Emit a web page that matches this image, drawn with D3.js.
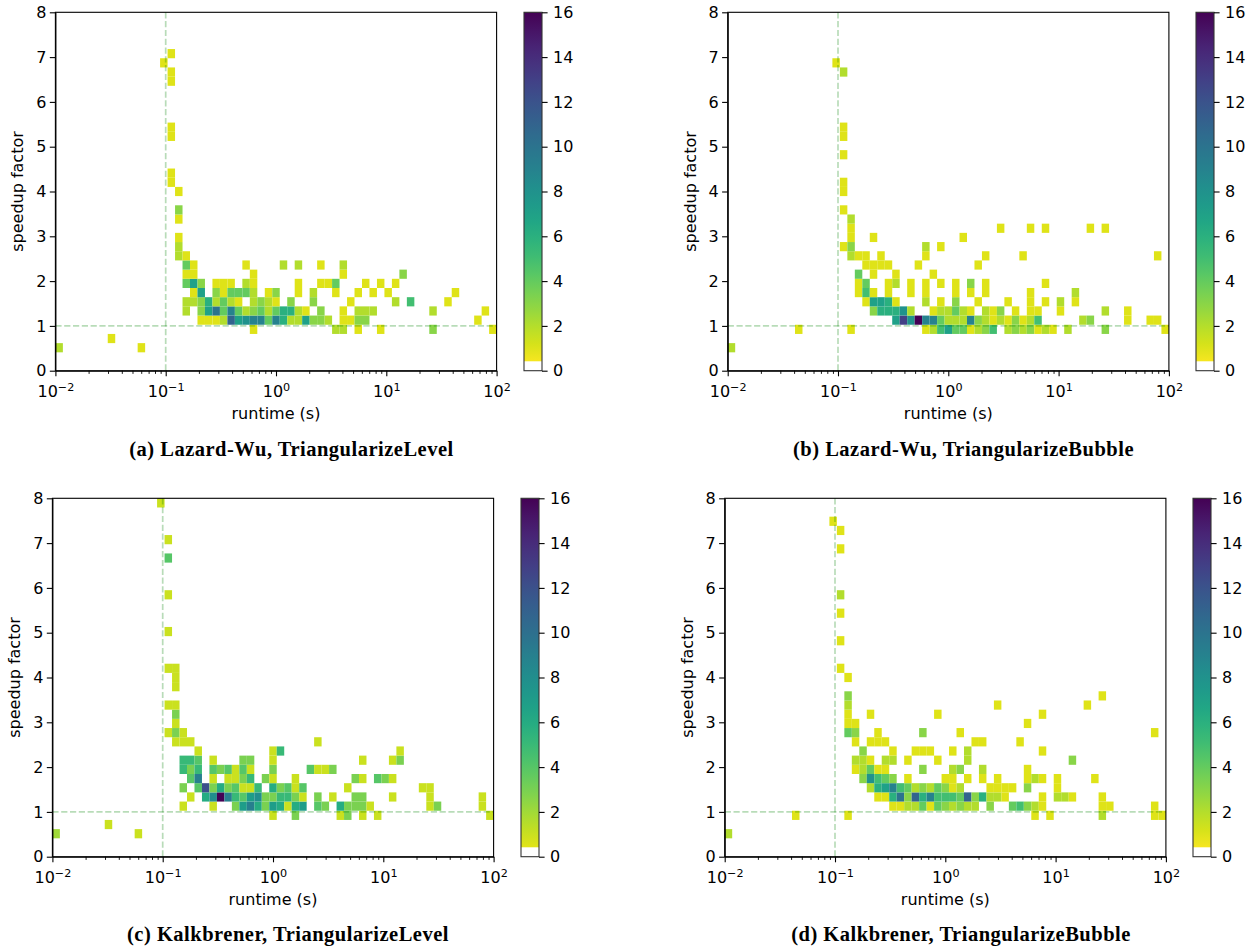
<!DOCTYPE html>
<html>
<head>
<meta charset="utf-8">
<script src="https://cdn.jsdelivr.net/npm/d3@7"></script>
<style>
  html, body { margin: 0; background: #fff; }
  svg text { font-family: "DejaVu Sans", sans-serif; fill: #000; }
  .caption { font-family: "Liberation Serif", serif !important; font-weight: bold; font-size: 20.5px; letter-spacing: 0.5px; }
</style>
</head>
<body>
<svg id="chart" width="1253" height="949"></svg>
<script>
// bin edges of the histograms: 59 log bins for runtime, 39 linear bins for speedup
const runtimeEdges = d3.range(60).map((i) => 10 ** (-2 + (4 * i) / 59));
const speedupEdges = d3.range(40).map((i) => (8 * i) / 39);
const decades = [0.01, 0.1, 1, 10, 100];
const decadeExponents = ['\u22122', '\u22121', '0', '1', '2'];
const speedupTicks = [0, 1, 2, 3, 4, 5, 6, 7, 8];
const countTicks = [0, 2, 4, 6, 8, 10, 12, 14, 16];

// speedup row -> { runtime bin: number of instances }
const lazardLevel = {
  2: { 0: 2, 11: 1 },
  3: { 7: 1 },
  4: { 26: 1, 37: 2, 38: 2, 40: 1, 43: 1, 50: 3, 58: 1 },
  5: { 19: 1, 20: 1, 21: 1, 22: 2, 23: 11, 24: 7, 25: 8, 26: 9, 27: 9, 28: 4, 29: 9, 30: 6, 31: 2, 32: 2, 33: 7, 34: 3, 35: 3, 36: 2, 38: 1, 39: 1, 40: 3, 41: 3, 56: 1 },
  6: { 17: 2, 19: 3, 20: 7, 21: 10, 22: 4, 23: 9, 24: 4, 25: 2, 26: 3, 27: 4, 28: 2, 29: 4, 30: 6, 31: 6, 32: 2, 33: 1, 35: 3, 38: 1, 40: 2, 41: 2, 42: 2, 50: 2, 57: 1 },
  7: { 17: 2, 18: 2, 19: 3, 20: 6, 21: 2, 22: 4, 23: 2, 24: 1, 26: 2, 27: 3, 28: 2, 29: 1, 31: 3, 34: 3, 39: 1, 45: 2, 47: 5, 52: 1 },
  8: { 18: 1, 19: 7, 21: 3, 22: 1, 23: 4, 24: 4, 25: 4, 26: 2, 28: 1, 29: 3, 32: 1, 34: 2, 37: 1, 40: 1, 42: 1, 44: 1, 53: 1 },
  9: { 17: 4, 18: 7, 19: 3, 21: 1, 22: 1, 23: 1, 25: 2, 26: 1, 32: 1, 35: 1, 36: 1, 37: 4, 41: 1, 43: 1, 45: 1 },
  10: { 17: 1, 18: 1, 26: 1, 38: 1, 46: 3 },
  11: { 17: 4, 18: 1, 25: 1, 30: 2, 32: 2, 35: 1, 38: 2 },
  12: { 16: 2, 17: 1 },
  13: { 16: 2 },
  14: { 16: 1 },
  16: { 16: 1 },
  17: { 16: 3 },
  19: { 16: 1 },
  20: { 15: 1 },
  21: { 15: 1 },
  25: { 15: 1 },
  26: { 15: 1 },
  31: { 15: 1 },
  32: { 15: 1 },
  33: { 14: 1 },
  34: { 15: 1 },
};

const lazardBubble = {
  2: { 0: 2 },
  4: { 9: 1, 16: 1, 26: 1, 27: 2, 28: 5, 29: 7, 30: 4, 31: 4, 32: 1, 33: 2, 34: 3, 35: 5, 37: 2, 38: 3, 39: 2, 40: 3, 41: 1, 42: 2, 43: 1, 45: 2, 50: 3, 58: 1 },
  5: { 22: 7, 23: 13, 24: 8, 25: 16, 26: 9, 27: 9, 28: 4, 29: 2, 30: 2, 31: 2, 32: 9, 33: 3, 34: 2, 35: 1, 36: 2, 37: 1, 38: 3, 39: 1, 40: 2, 41: 5, 47: 2, 48: 3, 53: 1, 56: 1, 57: 1 },
  6: { 19: 3, 20: 6, 21: 6, 22: 6, 23: 8, 24: 2, 27: 1, 28: 2, 29: 2, 30: 4, 31: 2, 32: 1, 34: 2, 35: 1, 36: 3, 38: 1, 40: 1, 41: 1, 44: 1, 50: 2, 53: 1 },
  7: { 18: 1, 19: 7, 20: 7, 21: 6, 22: 1, 26: 2, 28: 1, 30: 3, 33: 1, 37: 1, 40: 1, 42: 1, 44: 2, 46: 1 },
  8: { 17: 1, 18: 5, 19: 1, 21: 1, 24: 1, 26: 1, 30: 1, 32: 1, 34: 1, 40: 1, 46: 2 },
  9: { 17: 1, 18: 4, 21: 1, 22: 2, 24: 1, 26: 1, 28: 1, 30: 1, 32: 3, 34: 1, 42: 1 },
  10: { 17: 4, 19: 1, 22: 1, 27: 1 },
  11: { 18: 1, 19: 1, 20: 1, 21: 1, 25: 1, 33: 1 },
  12: { 16: 2, 17: 1, 18: 1, 20: 1, 26: 1, 34: 1, 39: 1, 57: 1 },
  13: { 15: 1, 16: 3, 26: 2, 28: 1 },
  14: { 16: 1, 19: 1, 31: 1 },
  15: { 16: 1, 36: 1, 40: 1, 42: 1, 48: 1, 50: 1 },
  16: { 16: 2 },
  17: { 15: 1 },
  19: { 15: 1 },
  20: { 15: 1 },
  23: { 15: 1 },
  25: { 15: 1 },
  26: { 15: 1 },
  32: { 15: 2 },
  33: { 14: 1 },
};

const kalkLevel = {
  2: { 0: 2, 11: 1 },
  3: { 7: 1 },
  4: { 29: 1, 32: 3, 38: 1, 39: 3, 41: 1, 43: 1, 58: 1 },
  5: { 17: 1, 21: 1, 24: 3, 25: 7, 26: 9, 27: 6, 28: 3, 29: 7, 30: 6, 31: 1, 32: 6, 33: 7, 35: 4, 36: 3, 38: 6, 39: 3, 40: 3, 41: 3, 42: 1, 50: 1, 51: 3, 57: 1 },
  6: { 18: 1, 20: 6, 21: 8, 22: 16, 23: 9, 24: 5, 25: 4, 26: 7, 27: 8, 28: 3, 29: 3, 30: 5, 31: 5, 32: 3, 33: 1, 35: 3, 37: 1, 40: 3, 41: 3, 45: 1, 50: 1, 57: 1 },
  7: { 17: 3, 19: 4, 20: 12, 21: 3, 22: 6, 23: 3, 24: 4, 25: 1, 26: 1, 27: 5, 29: 6, 30: 3, 31: 4, 32: 1, 33: 4, 39: 1, 49: 1, 50: 1 },
  8: { 18: 4, 19: 9, 21: 1, 23: 1, 24: 1, 25: 3, 26: 5, 28: 3, 29: 1, 32: 1, 40: 3, 41: 1, 43: 4, 44: 3, 45: 1 },
  9: { 17: 5, 18: 3, 19: 5, 21: 4, 22: 3, 23: 4, 24: 1, 25: 4, 26: 1, 29: 3, 34: 4, 35: 1, 36: 1, 37: 3 },
  10: { 17: 5, 18: 5, 19: 4, 21: 1, 25: 3, 26: 3, 29: 1, 41: 1, 45: 1, 46: 3 },
  11: { 19: 1, 29: 1, 30: 5, 46: 1 },
  12: { 16: 1, 17: 1, 18: 1, 35: 1 },
  13: { 15: 1, 16: 3, 17: 1 },
  14: { 16: 1 },
  15: { 16: 3 },
  16: { 15: 1, 16: 1 },
  18: { 16: 1 },
  19: { 16: 1 },
  20: { 15: 1, 16: 1 },
  24: { 15: 1 },
  28: { 15: 1 },
  32: { 15: 4 },
  34: { 15: 1 },
  38: { 14: 1 },
};

const kalkBubble = {
  2: { 0: 2 },
  4: { 9: 1, 16: 1, 41: 1, 43: 1, 50: 2, 57: 1, 58: 1 },
  5: { 22: 1, 23: 1, 24: 2, 25: 2, 26: 4, 27: 1, 28: 4, 29: 3, 30: 2, 31: 3, 32: 2, 33: 2, 35: 3, 38: 4, 39: 5, 40: 3, 41: 2, 42: 1, 50: 1, 51: 1, 57: 1 },
  6: { 20: 1, 21: 1, 22: 6, 23: 10, 24: 3, 25: 11, 26: 6, 27: 9, 28: 5, 29: 5, 30: 5, 31: 4, 32: 11, 33: 3, 34: 6, 35: 2, 36: 2, 37: 1, 42: 1, 44: 2, 45: 2, 46: 1, 50: 1 },
  7: { 19: 2, 20: 6, 21: 7, 22: 9, 23: 5, 24: 4, 25: 2, 26: 3, 27: 2, 28: 4, 29: 3, 30: 1, 31: 2, 35: 1, 36: 1, 37: 1, 38: 1, 40: 3, 44: 1 },
  8: { 18: 3, 19: 8, 20: 5, 21: 4, 22: 3, 24: 1, 29: 1, 30: 1, 32: 1, 34: 1, 36: 1, 40: 1, 41: 2, 42: 1, 44: 1, 49: 1 },
  9: { 17: 1, 18: 2, 19: 4, 20: 1, 21: 1, 26: 3, 30: 2, 31: 3, 34: 2, 40: 1 },
  10: { 17: 2, 18: 2, 19: 1, 21: 2, 22: 2, 24: 1, 28: 1, 32: 2, 46: 3 },
  11: { 18: 3, 22: 1, 25: 1, 26: 1, 27: 1, 30: 1, 32: 2, 42: 1 },
  12: { 17: 1, 19: 1, 20: 1, 21: 1, 33: 1, 34: 1, 39: 1 },
  13: { 16: 4, 17: 3, 20: 1, 26: 3, 31: 1, 57: 1 },
  14: { 16: 1, 17: 1, 40: 1 },
  15: { 16: 1, 19: 1, 28: 1, 42: 1 },
  16: { 16: 2, 36: 1, 48: 1 },
  17: { 16: 3, 50: 1 },
  19: { 16: 1 },
  20: { 15: 1 },
  23: { 15: 1 },
  26: { 15: 1 },
  28: { 15: 2 },
  33: { 15: 1 },
  35: { 15: 1 },
  36: { 14: 1 },
};

const panels = [
  { id: 'a', counts: lazardLevel, left: 55.4, top: 12.3, barLeft: 524, vmin: 0.21, caption: '(a) Lazard-Wu, TriangularizeLevel', captionX: 291.5, captionY: 456 },
  { id: 'b', counts: lazardBubble, left: 727.7, top: 12.3, barLeft: 1196, vmin: 0.21, caption: '(b) Lazard-Wu, TriangularizeBubble', captionX: 963.5, captionY: 456 },
  { id: 'c', counts: kalkLevel, left: 52.4, top: 498.3, barLeft: 521, vmin: -0.3, caption: '(c) Kalkbrener, TriangularizeLevel', captionX: 288, captionY: 941 },
  { id: 'd', counts: kalkBubble, left: 724.7, top: 498.3, barLeft: 1193, vmin: 0.21, caption: '(d) Kalkbrener, TriangularizeBubble', captionX: 961, captionY: 941 },
];

const plotWidth = 441.2;
const plotHeight = 358.4;
const barWidth = 18;
const tickFont = 16;

const svg = d3.select('#chart');
const defs = svg.append('defs');

function drawPanel(panel) {
  const g = svg.append('g').attr('transform', `translate(${panel.left},${panel.top})`);
  const x = d3.scaleLog().domain([0.01, 100]).range([0, plotWidth]);
  const y = d3.scaleLinear().domain([0, 8]).range([plotHeight, 0]);
  const color = d3.scaleSequential(d3.interpolateViridis).domain([16, panel.vmin]);

  const cells = Object.entries(panel.counts).flatMap(([row, bins]) =>
    Object.entries(bins).map(([bin, count]) => ({ row: +row, bin: +bin, count })),
  );

  g.selectAll('rect.cell')
    .data(cells)
    .join('rect')
    .attr('class', 'cell')
    .attr('x', (d) => x(runtimeEdges[d.bin]))
    .attr('width', (d) => x(runtimeEdges[d.bin + 1]) - x(runtimeEdges[d.bin]))
    .attr('y', (d) => y(speedupEdges[d.row + 1]))
    .attr('height', (d) => y(speedupEdges[d.row]) - y(speedupEdges[d.row + 1]))
    .attr('fill', (d) => color(d.count));

  // reference lines at 0.1 s and speedup 1
  const refStyle = (sel) => sel
    .attr('stroke', 'green')
    .attr('stroke-opacity', 0.28)
    .attr('stroke-width', 1.7)
    .attr('stroke-dasharray', '6.2,2.6');
  g.append('line').attr('x1', x(0.1)).attr('x2', x(0.1)).attr('y1', 0).attr('y2', plotHeight).call(refStyle);
  g.append('line').attr('x1', 0).attr('x2', plotWidth).attr('y1', y(1)).attr('y2', y(1)).call(refStyle);

  const minorTicks = decades.slice(0, -1).flatMap((d) => d3.range(2, 10).map((m) => d * m));
  g.append('g')
    .attr('transform', `translate(0,${plotHeight})`)
    .call(d3.axisBottom(x).tickValues(minorTicks).tickSize(3.2).tickFormat(''))
    .call((a) => a.select('.domain').remove())
    .call((a) => a.selectAll('line').attr('stroke-width', 0.9));

  const xAxis = g.append('g')
    .attr('transform', `translate(0,${plotHeight})`)
    .call(d3.axisBottom(x).tickValues(decades).tickSize(5.6).tickSizeOuter(0).tickFormat(''));
  xAxis.selectAll('.tick text')
    .attr('y', 15)
    .style('font-size', `${tickFont}px`)
    .each(function (d, i) {
      const t = d3.select(this);
      t.append('tspan').text('10');
      t.append('tspan').attr('dy', -6).style('font-size', '11.2px').text(decadeExponents[i]);
    });

  const yAxis = g.append('g')
    .call(d3.axisLeft(y).tickValues(speedupTicks).tickSize(5.6).tickSizeOuter(0));
  yAxis.selectAll('.tick text').attr('x', -9).style('font-size', `${tickFont}px`);

  [xAxis, yAxis].forEach((a) => a.selectAll('line, path').attr('stroke-width', 1.1));

  g.append('rect')
    .attr('width', plotWidth)
    .attr('height', plotHeight)
    .attr('fill', 'none')
    .attr('stroke', '#000')
    .attr('stroke-width', 1.1);

  g.append('text')
    .attr('x', plotWidth / 2)
    .attr('y', plotHeight + 48.5)
    .attr('text-anchor', 'middle')
    .style('font-size', `${tickFont}px`)
    .text('runtime (s)');

  g.append('text')
    .attr('transform', `translate(-32,${plotHeight / 2}) rotate(-90)`)
    .attr('text-anchor', 'middle')
    .style('font-size', `${tickFont}px`)
    .text('speedup factor');

  // colorbar, white below the first count
  const bar = svg.append('g').attr('transform', `translate(${panel.barLeft},${panel.top})`);
  const c = d3.scaleLinear().domain([0, 16]).range([plotHeight, 0]);
  const underLimit = 0.42;
  const gradient = defs.append('linearGradient')
    .attr('id', `bar-${panel.id}`)
    .attr('x1', 0).attr('x2', 0).attr('y1', 1).attr('y2', 0);
  d3.range(0, 1.0001, 0.05).forEach((f) => {
    const v = underLimit + f * (16 - underLimit);
    gradient.append('stop').attr('offset', f).attr('stop-color', color(v));
  });
  bar.append('rect')
    .attr('width', barWidth)
    .attr('y', c(16))
    .attr('height', c(underLimit) - c(16))
    .attr('fill', `url(#bar-${panel.id})`);
  bar.append('rect')
    .attr('width', barWidth)
    .attr('height', plotHeight)
    .attr('fill', 'none')
    .attr('stroke', '#333')
    .attr('stroke-width', 1.1);
  bar.append('g')
    .attr('transform', `translate(${barWidth},0)`)
    .call(d3.axisRight(c).tickValues(countTicks).tickSize(5.6).tickSizeOuter(0))
    .call((a) => a.select('.domain').remove())
    .call((a) => a.selectAll('line').attr('stroke-width', 1.1))
    .call((a) => a.selectAll('text').attr('x', 11).style('font-size', `${tickFont}px`));

  svg.append('text')
    .attr('class', 'caption')
    .attr('x', panel.captionX)
    .attr('y', panel.captionY)
    .attr('text-anchor', 'middle')
    .text(panel.caption);
}

panels.forEach(drawPanel);
</script>
</body>
</html>
